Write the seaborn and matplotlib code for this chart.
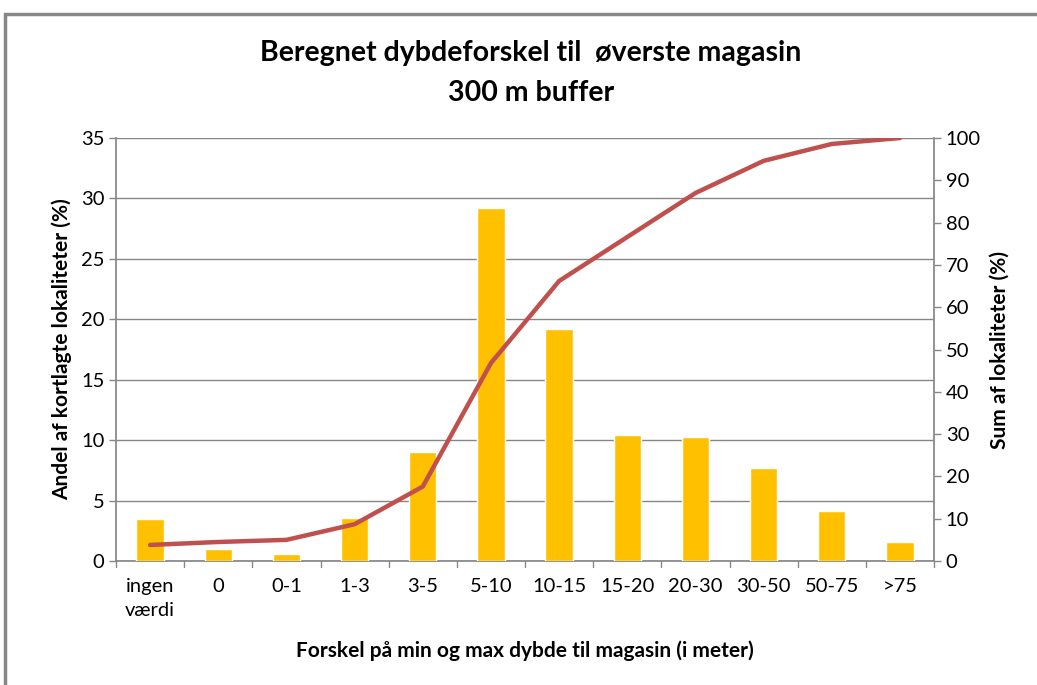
import numpy as np
import pandas as pd
import matplotlib
matplotlib.use("Agg")
import matplotlib.pyplot as plt
import seaborn as sns
from matplotlib.patches import Rectangle

# data
categories = ["ingen\nværdi", "0", "0-1", "1-3", "3-5", "5-10", "10-15",
              "15-20", "20-30", "30-50", "50-75", ">75"]
andel = [3.5, 1.0, 0.6, 3.6, 9.0, 29.2, 19.2, 10.4, 10.3, 7.7, 4.1, 1.6]
sum_pct = [3.8, 4.5, 5.0, 8.7, 17.6, 46.8, 66.2, 76.6, 87.0, 94.6, 98.6, 100.0]

sns.set_theme(style="white")
plt.rcParams['font.family'] = ['Lato', 'DejaVu Sans']
plt.rcParams['text.color'] = "black"
plt.rcParams['axes.labelcolor'] = "black"

df = pd.DataFrame({"kategori": categories, "andel": andel, "sum": sum_pct})

fig = plt.figure(figsize=(10.37, 6.85), dpi=100)
ax = fig.add_axes([0.1119, 0.181, 0.7888, 0.6175])

sns.barplot(data=df, x="kategori", y="andel", color="#FFC000", width=0.4,
            saturation=1, ax=ax, zorder=3)
ax.set_ylim(0, 35)
ax.set_xlim(-0.5, len(categories) - 0.5)
ax.set_yticks(np.arange(0, 36, 5))
ax.yaxis.grid(True, color="#878787", linewidth=1)
ax.set_axisbelow(True)
ax.set_xlabel("Forskel på min og max dybde til magasin (i meter)",
              fontsize=15, fontweight="bold", labelpad=16)
ax.set_ylabel("Andel af kortlagte lokaliteter (%)", fontsize=15,
              fontweight="bold", labelpad=6)

ax2 = ax.twinx()
sns.lineplot(data=df, x="kategori", y="sum", color="#C0504D", linewidth=3.2,
             sort=False, ax=ax2, zorder=4)
ax2.set_ylim(0, 100)
ax2.set_yticks(np.arange(0, 101, 10))
ax2.set_ylabel("Sum af lokaliteter (%)", fontsize=15, fontweight="bold",
               labelpad=6)
ax2.grid(False)

for a in (ax, ax2):
    for s in a.spines.values():
        s.set_visible(False)
    a.tick_params(labelsize=14.5, colors="#000000", length=5,
                  width=1, direction="out")
    a.tick_params(axis="y", color="#878787")
ax.tick_params(axis="x", length=0, pad=12)
ax.spines["left"].set_visible(True)
ax.spines["left"].set_color("#878787")
ax.spines["bottom"].set_visible(True)
ax.spines["bottom"].set_color("#878787")
ax2.spines["right"].set_visible(True)
ax2.spines["right"].set_color("#878787")
# category boundary ticks on the x axis
for i in range(len(categories) + 1):
    ax.plot([i - 0.5, i - 0.5], [0, -0.5], color="#878787", lw=1,
            clip_on=False, zorder=2)
for lbl in ax.get_xticklabels():
    lbl.set_linespacing(1.5)
    lbl.set_va("top")

fig.text(0.512, 0.922, "Beregnet dybdeforskel til  øverste magasin",
         ha="center", va="center", fontsize=20.5, fontweight="bold")
fig.text(0.512, 0.864, "300 m buffer", ha="center", va="center",
         fontsize=20.5, fontweight="bold")

# outer chart frame
fig.patches.append(Rectangle((0.005, -0.05), 1.1, 1.03,
                             transform=fig.transFigure, fill=False,
                             edgecolor="#878787", linewidth=2.5))

fig.savefig("out.png", dpi=100)
